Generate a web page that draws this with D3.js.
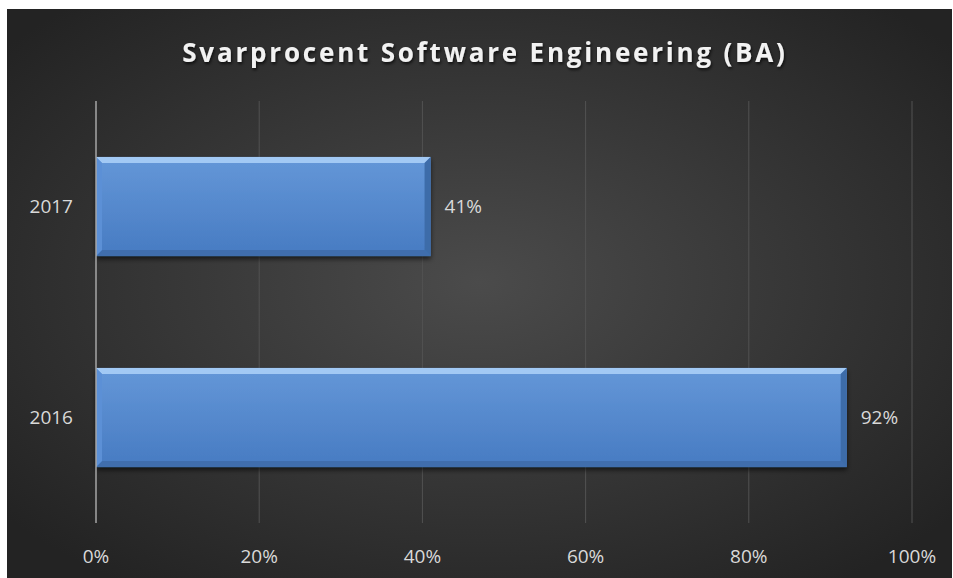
<!DOCTYPE html>
<html>
<head>
<meta charset="utf-8">
<script src="https://cdn.jsdelivr.net/npm/d3@7"></script>
<style>
  body { margin: 0; background: #fff; }
  svg { display: block; }
</style>
</head>
<body>
<div id="chart"></div>
<script>
var W = 953, H = 578;

// data
var years = ["2017", "2016"];
var values = [0.41, 0.92];
var ticks = [0, 0.2, 0.4, 0.6, 0.8, 1.0];
var title = "Svarprocent Software Engineering (BA)";

var m = {left: 96, right: 41, top: 101, bottom: 55};

var x = d3.scaleLinear().domain([0, 1]).range([m.left, W - m.right]);
var y = d3.scaleBand().domain(years).range([m.top, H - m.bottom]).paddingInner(0.53).paddingOuter(0.265);

var svg = d3.select("#chart").append("svg")
    .attr("width", W)
    .attr("height", H);

var defs = svg.append("defs");

// background radial gradient
var bg = defs.append("radialGradient")
    .attr("id", "bg")
    .attr("cx", "50%").attr("cy", "48%").attr("r", "65%");
bg.append("stop").attr("offset", "0%").attr("stop-color", "#4b4b4b");
bg.append("stop").attr("offset", "100%").attr("stop-color", "#232323");

var barg = defs.append("linearGradient")
    .attr("id", "barg").attr("x1", 0).attr("y1", 0).attr("x2", 0).attr("y2", 1);
barg.append("stop").attr("offset", "0%").attr("stop-color", "#6497d8");
barg.append("stop").attr("offset", "100%").attr("stop-color", "#477bc2");

var sh = defs.append("filter").attr("id", "shadow")
    .attr("x", "-5%").attr("y", "-10%").attr("width", "110%").attr("height", "130%");
sh.append("feDropShadow").attr("dx", 0).attr("dy", 3).attr("stdDeviation", 2.5)
    .attr("flood-color", "#000").attr("flood-opacity", 0.6);

var tsh = defs.append("filter").attr("id", "tshadow");
tsh.append("feDropShadow").attr("dx", 1).attr("dy", 2).attr("stdDeviation", 1.5)
    .attr("flood-color", "#000").attr("flood-opacity", 0.7);

svg.append("rect")
    .attr("x", 7).attr("y", 9)
    .attr("width", W - 8).attr("height", H - 9)
    .attr("fill", "url(#bg)");

// title
svg.append("text")
    .attr("x", 485).attr("y", 62)
    .attr("text-anchor", "middle")
    .attr("fill", "#f2f2f2")
    .attr("font-family", "'Open Sans', sans-serif")
    .attr("font-weight", "bold")
    .attr("font-size", 26)
    .attr("letter-spacing", 2.8)
    .attr("filter", "url(#tshadow)")
    .text(title);

// gridlines
svg.append("g").selectAll("line")
    .data(ticks.slice(1))
    .enter().append("line")
    .attr("x1", function(d) { return x(d); })
    .attr("x2", function(d) { return x(d); })
    .attr("y1", m.top).attr("y2", H - m.bottom)
    .attr("stroke", "#525252").attr("stroke-width", 1);

// bars
var bar = svg.append("g").selectAll("g")
    .data(years)
    .enter().append("g")
    .attr("filter", "url(#shadow)");

var bev = 6;
bar.each(function(d, i) {
  var g = d3.select(this);
  var x0 = x(0), x1 = x(values[i]), y0 = y(d), y1 = y(d) + y.bandwidth();
  g.append("rect")
      .attr("x", x0).attr("y", y0)
      .attr("width", x1 - x0).attr("height", y1 - y0)
      .attr("fill", "url(#barg)");
  // bevel: top, bottom, left, right
  g.append("polygon")
      .attr("points", [[x0, y0], [x1, y0], [x1 - bev, y0 + bev], [x0 + bev, y0 + bev]].join(" "))
      .attr("fill", "#a2c9f4");
  g.append("polygon")
      .attr("points", [[x0, y1], [x1, y1], [x1 - bev, y1 - bev], [x0 + bev, y1 - bev]].join(" "))
      .attr("fill", "#3f6ead");
  g.append("polygon")
      .attr("points", [[x0, y0], [x0 + bev, y0 + bev], [x0 + bev, y1 - bev], [x0, y1]].join(" "))
      .attr("fill", "#5b90d6");
  g.append("polygon")
      .attr("points", [[x1, y0], [x1 - bev, y0 + bev], [x1 - bev, y1 - bev], [x1, y1]].join(" "))
      .attr("fill", "#3e6ca9");
});

// value labels
svg.append("g").selectAll("text")
    .data(years)
    .enter().append("text")
    .attr("x", function(d, i) { return x(values[i]) + 14; })
    .attr("y", function(d) { return y(d) + y.bandwidth() / 2; })
    .attr("dy", "0.35em")
    .attr("fill", "#d9d9d9")
    .attr("font-family", "'Open Sans', sans-serif")
    .attr("font-size", 19)
    .text(function(d, i) { return Math.round(values[i] * 100) + "%"; });

// y axis line
svg.append("line")
    .attr("x1", x(0)).attr("x2", x(0))
    .attr("y1", m.top).attr("y2", H - m.bottom)
    .attr("stroke", "#a6a6a6").attr("stroke-width", 1.5);

// y labels
svg.append("g").selectAll("text")
    .data(years)
    .enter().append("text")
    .attr("x", x(0) - 23)
    .attr("y", function(d) { return y(d) + y.bandwidth() / 2; })
    .attr("dy", "0.35em")
    .attr("text-anchor", "end")
    .attr("fill", "#d9d9d9")
    .attr("font-family", "'Open Sans', sans-serif")
    .attr("font-size", 19)
    .text(function(d) { return d; });

// x labels
svg.append("g").selectAll("text")
    .data(ticks)
    .enter().append("text")
    .attr("x", function(d) { return x(d); })
    .attr("y", 556)
    .attr("dy", "0.35em")
    .attr("text-anchor", "middle")
    .attr("fill", "#d9d9d9")
    .attr("font-family", "'Open Sans', sans-serif")
    .attr("font-size", 19)
    .text(function(d) { return Math.round(d * 100) + "%"; });
</script>
</body>
</html>
